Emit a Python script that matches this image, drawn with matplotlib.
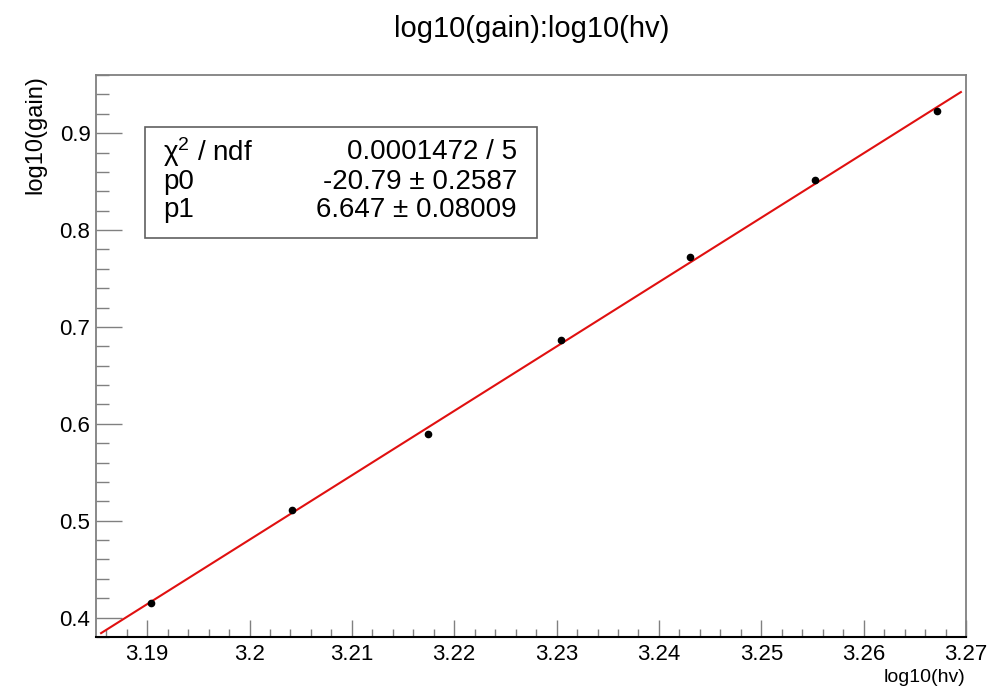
import matplotlib
matplotlib.use('Agg')
import matplotlib.pyplot as plt
from matplotlib.ticker import MultipleLocator
import numpy as np

plt.rcParams['font.family'] = ['Liberation Sans', 'DejaVu Sans']
plt.rcParams['mathtext.default'] = 'regular'

# data: log10 of high voltage vs log10 of gain
hv = [1550, 1600, 1650, 1700, 1750, 1800, 1850]
log_hv = np.log10(hv)
log_gain = [0.4155, 0.511, 0.5895, 0.6865, 0.772, 0.8515, 0.9228]

# fit results (pol1)
p0, p0_err = -20.79, 0.2587
p1, p1_err = 6.647, 0.08009
chi2, ndf = 0.0001472, 5

frame_col = '#808080'

fig = plt.figure(figsize=(10.07, 6.86), dpi=100)
ax = fig.add_axes([0.0953, 0.0714, 0.8640, 0.8193])

xf = np.linspace(3.1855, 3.2695, 50)
ax.plot(xf, p0 + p1 * xf, color='#e01010', lw=1.5, zorder=2)
ax.plot(log_hv, log_gain, 'o', color='black', ms=4.5, zorder=3)

ax.set_xlim(3.185, 3.27)
ax.set_ylim(0.38, 0.96)

ax.xaxis.set_major_locator(MultipleLocator(0.01))
ax.xaxis.set_minor_locator(MultipleLocator(0.002))
ax.yaxis.set_major_locator(MultipleLocator(0.1))
ax.yaxis.set_minor_locator(MultipleLocator(0.02))
ax.xaxis.set_major_formatter(matplotlib.ticker.FuncFormatter(lambda v, p: ('%.2f' % v).rstrip('0').rstrip('.')))
ax.yaxis.set_major_formatter(matplotlib.ticker.FuncFormatter(lambda v, p: '%.1f' % v))

ax.tick_params(axis='x', which='major', direction='in', length=12, width=1, color=frame_col, labelsize=16, pad=5)
ax.tick_params(axis='x', which='minor', direction='in', length=6, width=1, color=frame_col)
ax.tick_params(axis='y', which='major', direction='in', length=19, width=1, color=frame_col, labelsize=16, pad=4)
ax.tick_params(axis='y', which='minor', direction='in', length=9.5, width=1, color=frame_col)

for s in ['top', 'right', 'left']:
    ax.spines[s].set_color(frame_col)
    ax.spines[s].set_linewidth(1.3)
ax.spines['bottom'].set_color('black')
ax.spines['bottom'].set_linewidth(1.5)

fig.text(0.528, 0.958, 'log10(gain):log10(hv)', ha='center', va='center', fontsize=21)
fig.text(0.959, 0.0, 'log10(hv)', ha='right', va='bottom', fontsize=14)
fig.text(0.035, 0.891, 'log10(gain)', ha='center', va='top', rotation=90, fontsize=17)

# stats box
bx0, bx1 = 145 / 1007, 537 / 1007
by0, by1 = 1 - 238 / 686, 1 - 127 / 686
fig.patches.append(plt.Rectangle((bx0, by0), bx1 - bx0, by1 - by0, transform=fig.transFigure,
                                 fill=True, facecolor='white', edgecolor='#606060', lw=1.2, zorder=5))
rows = [(r'χ$^{2}$ / ndf', '%.7f / %d' % (chi2, ndf)),
        ('p0', '%.2f' % p0 + ' ± ' + '%.4f' % p0_err),
        ('p1', '%.3f' % p1 + ' ± ' + '%.5f' % p1_err)]
ys = [152, 182, 210]
for (lab, val), yp in zip(rows, ys):
    fig.text(163 / 1007, 1 - yp / 686, lab, ha='left', va='center', fontsize=20, zorder=6)
    fig.text(517 / 1007, 1 - yp / 686, val, ha='right', va='center', fontsize=20, zorder=6)

fig.savefig('out.png', dpi=100)
